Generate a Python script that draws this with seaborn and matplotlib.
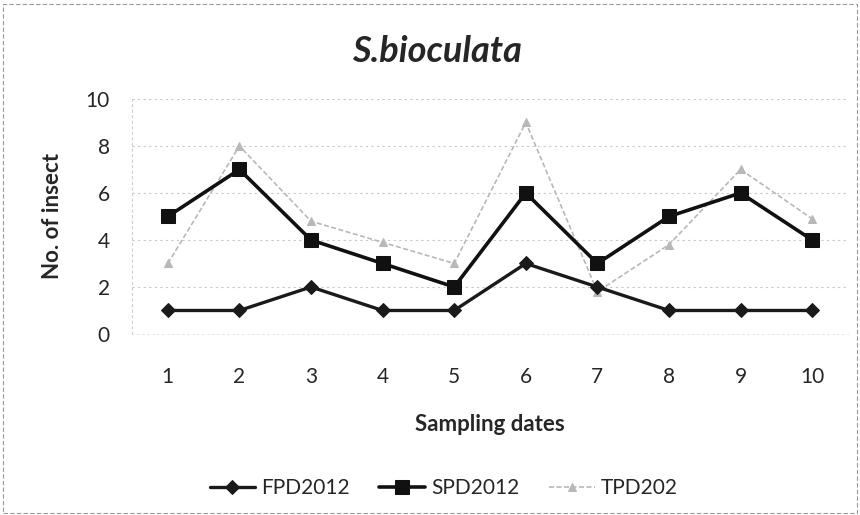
import matplotlib
matplotlib.use("Agg")
import matplotlib.pyplot as plt
import seaborn as sns
import pandas as pd
from matplotlib.patches import Rectangle

dates = [1, 2, 3, 4, 5, 6, 7, 8, 9, 10]
fpd2012 = [1, 1, 2, 1, 1, 3, 2, 1, 1, 1]
spd2012 = [5, 7, 4, 3, 2, 6, 3, 5, 6, 4]
tpd202 = [3, 8, 4.8, 3.9, 3, 9, 1.8, 3.8, 7, 4.9]
series_names = ["FPD2012", "SPD2012", "TPD202"]
y_ticks = [0, 2, 4, 6, 8, 10]

sns.set_theme(style="white")
plt.rcParams['font.family'] = ['Lato', 'DejaVu Sans']

df = pd.DataFrame({
    "date": [str(d) for d in dates] * 3,
    "value": fpd2012 + spd2012 + tpd202,
    "series": [series_names[0]] * 10 + [series_names[1]] * 10 + [series_names[2]] * 10,
})

fig = plt.figure(figsize=(8.6, 5.15), dpi=100)
ax = fig.add_axes([0.1535, 0.3515, 0.8325, 0.4563])

styles = {
    "FPD2012": dict(color="#1a1a1a", marker="D", markersize=7, linewidth=2.4, linestyle="-"),
    "SPD2012": dict(color="#111111", marker="s", markersize=10, linewidth=2.6, linestyle="-"),
    "TPD202": dict(color="#b8b8b8", marker="^", markersize=6, linewidth=1.2, linestyle=(0, (3, 1.5))),
}
order = ["TPD202", "SPD2012", "FPD2012"]
handles = {}
for name in order:
    sub = df[df["series"] == name]
    st = styles[name]
    sns.lineplot(data=sub, x="date", y="value", ax=ax, sort=False,
                 color=st["color"], linewidth=st["linewidth"], linestyle=st["linestyle"],
                 marker=st["marker"], markersize=st["markersize"],
                 markerfacecolor=st["color"], markeredgecolor=st["color"],
                 label=name, legend=False)
    handles[name] = ax.lines[-1]

ax.set_xlim(-0.5, 9.5)
ax.set_ylim(0, 10)
ax.set_yticks(y_ticks)
ax.set_yticklabels([str(t) for t in y_ticks], fontsize=15)
ax.tick_params(axis="x", labelsize=15, pad=24, length=0)
ax.tick_params(axis="y", pad=16, length=0)
for t in y_ticks[1:]:
    ax.axhline(t, color="#c8c8c8", linewidth=0.8, linestyle=(0, (2, 3)), zorder=0)
for s in ["top", "right"]:
    ax.spines[s].set_visible(False)
ax.spines["left"].set_color("#d0d0d0")
ax.spines["left"].set_linestyle((0, (2, 3)))
ax.spines["left"].set_linewidth(0.8)
ax.spines["bottom"].set_color("#e0e0e0")
ax.spines["bottom"].set_linestyle((0, (2, 4)))
ax.spines["bottom"].set_linewidth(0.6)

ax.set_xlabel("Sampling dates", fontsize=16, fontweight="bold", labelpad=19)
ax.set_ylabel("No. of insect", fontsize=16, fontweight="bold", labelpad=16)

fig.text(0.508, 0.8796, "S.bioculata", fontsize=26, fontweight="bold", fontstyle="italic",
         ha="center", va="baseline")

leg = fig.legend([handles[n] for n in series_names], series_names,
                 loc="center", bbox_to_anchor=(0.516, 0.052), ncol=3, frameon=False,
                 fontsize=15, handlelength=2.2, columnspacing=1.4, handletextpad=0.3)

fig.patches.append(Rectangle((0.004, 0.004), 0.992, 0.988, transform=fig.transFigure,
                             fill=False, edgecolor="#9a9a9a", linewidth=0.8,
                             linestyle=(0, (4, 2))))

fig.savefig("out.png", dpi=100)
